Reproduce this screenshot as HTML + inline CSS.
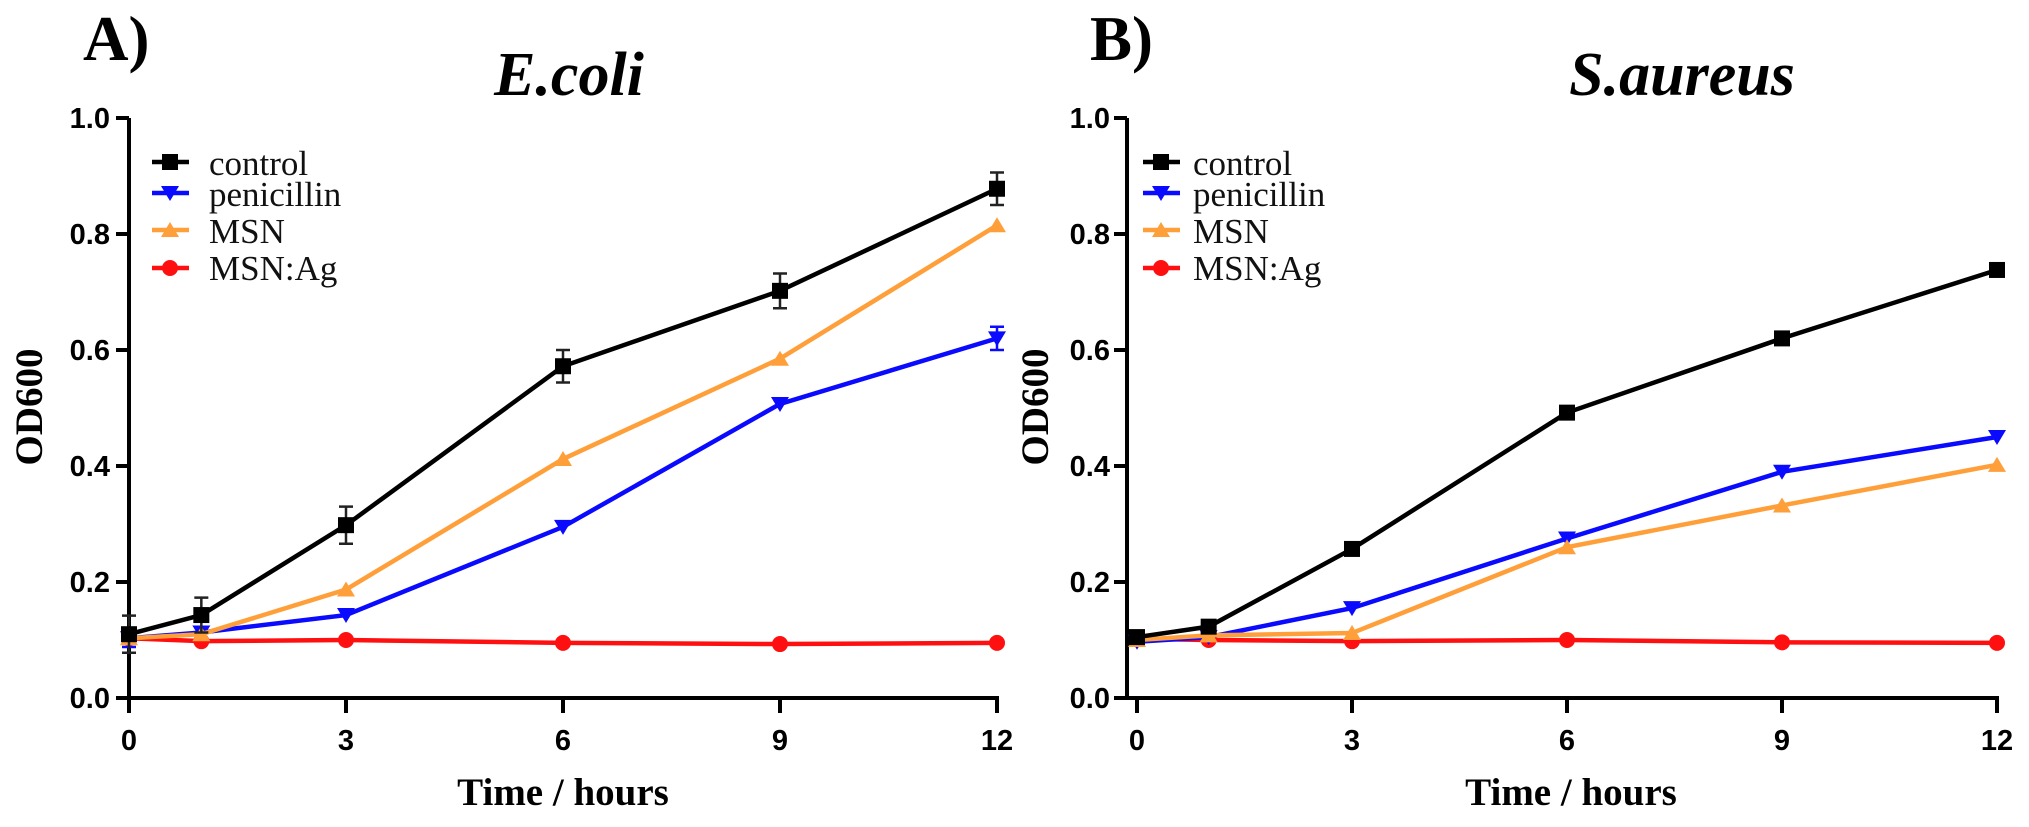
<!DOCTYPE html>
<html><head><meta charset="utf-8"><style>
html,body{margin:0;padding:0;background:#fff;}
svg{display:block;}
.tk{font-family:"Liberation Sans",sans-serif;font-weight:bold;font-size:29px;fill:#000;}
.lg{font-family:"Liberation Serif",serif;font-size:35px;fill:#111;}
.ax{font-family:"Liberation Serif",serif;font-weight:bold;font-size:39px;fill:#000;}
.pl{font-family:"Liberation Serif",serif;font-weight:bold;font-size:63px;fill:#000;}
.tt{font-family:"Liberation Serif",serif;font-weight:bold;font-style:italic;font-size:62px;fill:#000;}
</style></head><body>
<svg id="s" width="2029" height="827" viewBox="0 0 2029 827" xmlns="http://www.w3.org/2000/svg">
<text class="pl" x="83" y="60">A)</text>
<text class="pl" x="1090" y="60">B)</text>
<text class="tt" x="569" y="95" text-anchor="middle">E.coli</text>
<text class="tt" x="1682" y="95" text-anchor="middle">S.aureus</text>
<text class="ax" transform="translate(42,407) rotate(-90)" text-anchor="middle">OD600</text>
<text class="ax" transform="translate(1048,407) rotate(-90)" text-anchor="middle">OD600</text>
<text class="ax" x="563" y="805" text-anchor="middle">Time / hours</text>
<text class="ax" x="1571" y="805" text-anchor="middle">Time / hours</text>
<g id="A"></g><g id="B"></g>
<g class="tk" text-anchor="end">
<text x="110" y="708">0.0</text><text x="110" y="592">0.2</text><text x="110" y="476">0.4</text>
<text x="110" y="360">0.6</text><text x="110" y="244">0.8</text><text x="110" y="128">1.0</text>
<text x="1110" y="708">0.0</text><text x="1110" y="592">0.2</text><text x="1110" y="476">0.4</text>
<text x="1110" y="360">0.6</text><text x="1110" y="244">0.8</text><text x="1110" y="128">1.0</text>
</g>
<g class="tk" text-anchor="middle">
<text x="129" y="750">0</text><text x="346" y="750">3</text><text x="563" y="750">6</text><text x="780" y="750">9</text><text x="997" y="750">12</text>
<text x="1137" y="750">0</text><text x="1352" y="750">3</text><text x="1567" y="750">6</text><text x="1782" y="750">9</text><text x="1997" y="750">12</text>
</g>
<g class="lg">
<text x="209" y="175">control</text><text x="209" y="206">penicillin</text><text x="209" y="243">MSN</text><text x="209" y="280">MSN:Ag</text>
<text x="1193" y="175">control</text><text x="1193" y="206">penicillin</text><text x="1193" y="243">MSN</text><text x="1193" y="280">MSN:Ag</text>
</g>
</svg>
<script>
const NS="http://www.w3.org/2000/svg";
function el(p,t,a){const e=document.createElementNS(NS,t);for(const k in a)e.setAttribute(k,a[k]);p.appendChild(e);return e;}
const xs=[0,1,3,6,9,12];
const cols={c:"#000",p:"#0a0aff",m:"#ff9f3a",a:"#ff1010"};
function marker(g,type,x,y,c){
 if(type=="c") el(g,"rect",{x:x-8,y:y-8,width:16,height:16,fill:c});
 else if(type=="p") el(g,"polygon",{points:`${x-9},${y-7} ${x+9},${y-7} ${x},${y+8}`,fill:c});
 else if(type=="m") el(g,"polygon",{points:`${x-9},${y+7} ${x+9},${y+7} ${x},${y-8}`,fill:c});
 else el(g,"circle",{cx:x,cy:y,r:8,fill:c});
}
function panel(id,x0,xs12,axX,lgX,data,err){
 const g=document.getElementById(id);
 const X=v=>x0+v*(xs12-x0)/12, Y=v=>698-v*580;
 el(g,"line",{x1:axX,y1:118,x2:axX,y2:700,stroke:"#000","stroke-width":4});
 el(g,"line",{x1:axX,y1:698,x2:xs12+2,y2:698,stroke:"#000","stroke-width":4});
 for(let i=0;i<=5;i++){const y=Y(i*0.2);el(g,"line",{x1:axX-13,y1:y,x2:axX,y2:y,stroke:"#000","stroke-width":4});}
 [0,3,6,9,12].forEach(v=>el(g,"line",{x1:X(v),y1:698,x2:X(v),y2:713,stroke:"#000","stroke-width":4}));
 ["a","p","m","c"].forEach(k=>{
  const pts=data[k].map((v,i)=>X(xs[i])+","+Y(v)).join(" ");
  el(g,"polyline",{points:pts,fill:"none",stroke:cols[k],"stroke-width":4.5});
  data[k].forEach((v,i)=>{
   const e=err&&err[k]?err[k][i]:0;
   if(e){const x=X(xs[i]);el(g,"path",{d:`M${x},${Y(v+e)}V${Y(v-e)}M${x-7},${Y(v+e)}H${x+7}M${x-7},${Y(v-e)}H${x+7}`,stroke:k=="c"?"#222":cols[k],"stroke-width":2.5,fill:"none"});}
   marker(g,k,X(xs[i]),Y(v),cols[k]);
  });
 });
 const ly={c:162,p:193,m:230,a:268};
 for(const k in ly){el(g,"line",{x1:lgX,y1:ly[k],x2:lgX+37,y2:ly[k],stroke:cols[k],"stroke-width":4.5});marker(g,k,lgX+18,ly[k],cols[k]);}
}
panel("A",129,997,129,152,{
 c:[0.11,0.143,0.298,0.572,0.702,0.878],
 p:[0.103,0.113,0.143,0.295,0.507,0.62],
 m:[0.103,0.11,0.187,0.412,0.585,0.815],
 a:[0.103,0.098,0.1,0.095,0.093,0.095]},
 {c:[0.032,0.03,0.032,0.028,0.03,0.028],p:[0.015,0,0,0,0,0.02]});
panel("B",1137,1997,1127,1143,{
 c:[0.105,0.123,0.257,0.492,0.62,0.738],
 p:[0.097,0.105,0.155,0.275,0.39,0.45],
 m:[0.1,0.108,0.112,0.26,0.332,0.402],
 a:[0.102,0.1,0.098,0.1,0.096,0.095]},null);
</script>
</body></html>
